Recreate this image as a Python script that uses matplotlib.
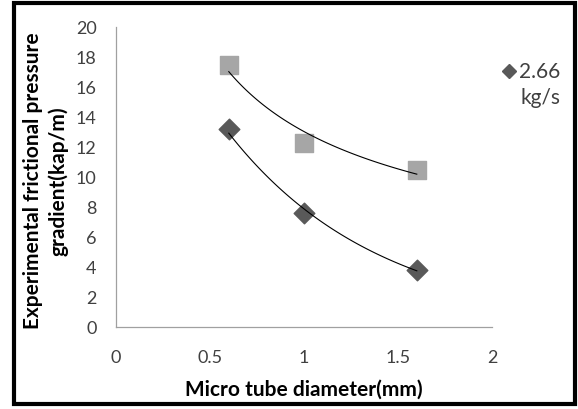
import matplotlib.pyplot as plt
import numpy as np
from matplotlib.patches import Rectangle
from matplotlib.lines import Line2D

# data
diameter = [0.6, 1.0, 1.6]
grad_266 = [13.2, 7.6, 3.8]
grad_other = [17.5, 12.3, 10.5]

plt.rcParams['font.family'] = ['Lato', 'DejaVu Sans']

fig = plt.figure(figsize=(5.78, 4.10), dpi=100)
ax = fig.add_axes([116 / 578, 1 - 328 / 410, (492 - 116) / 578, 300 / 410])

# excel style trendlines
def power_fit(x, y):
    b, a = np.polyfit(np.log(x), np.log(y), 1)
    xs = np.linspace(min(x), max(x), 100)
    return xs, np.exp(a) * xs ** b

def expo_fit(x, y):
    b, a = np.polyfit(x, np.log(y), 1)
    xs = np.linspace(min(x), max(x), 100)
    return xs, np.exp(a + b * xs)

xs, ys = power_fit(diameter, grad_other)
ax.plot(xs, ys, color='black', lw=0.8, zorder=4)
xs, ys = expo_fit(diameter, grad_266)
ax.plot(xs, ys, color='black', lw=0.8, zorder=4)

ax.scatter(diameter, grad_other, marker='s', s=170, color='#A6A6A6', zorder=3)
ax.scatter(diameter, grad_266, marker='D', s=110, color='#595959', zorder=3)

ax.set_xlim(0, 2)
ax.set_ylim(0, 20)
ax.set_xticks([0, 0.5, 1, 1.5, 2])
ax.set_xticklabels(['0', '0.5', '1', '1.5', '2'])
ax.set_yticks(range(0, 21, 2))
ax.tick_params(length=0, labelsize=13, colors='#404040')
ax.tick_params(axis='y', pad=14)
ax.tick_params(axis='x', pad=16)
for s in ['top', 'right']:
    ax.spines[s].set_visible(False)
for s in ['left', 'bottom']:
    ax.spines[s].set_color('#A0A0A0')
    ax.spines[s].set_linewidth(0.9)

ax.set_xlabel('Micro tube diameter(mm)', fontsize=15, fontweight='bold')
ax.xaxis.set_label_coords(0.5, (328 - 380) / 300)
ax.set_ylabel('Experimental frictional pressure\ngradient(kap/m)', fontsize=15,
              fontweight='bold', linespacing=1.25)
ax.yaxis.set_label_coords((68 - 116) / 376, 0.49)

# legend (only the 2.66 kg/s entry is visible)
fig.add_artist(Line2D([509 / 578], [1 - 72 / 410], marker='D', markersize=7,
                      color='#595959', transform=fig.transFigure))
fig.text(540 / 578, 1 - 72 / 410, '2.66', fontsize=15, color='#404040',
         ha='center', va='center')
fig.text(540 / 578, 1 - 98 / 410, 'kg/s', fontsize=15, color='#404040',
         ha='center', va='center')

fig.patches.append(Rectangle((14 / 578, 5 / 410), 561 / 578, 401 / 410,
                             transform=fig.transFigure, fill=False,
                             edgecolor='black', lw=3))

fig.savefig('out.png', dpi=100)
